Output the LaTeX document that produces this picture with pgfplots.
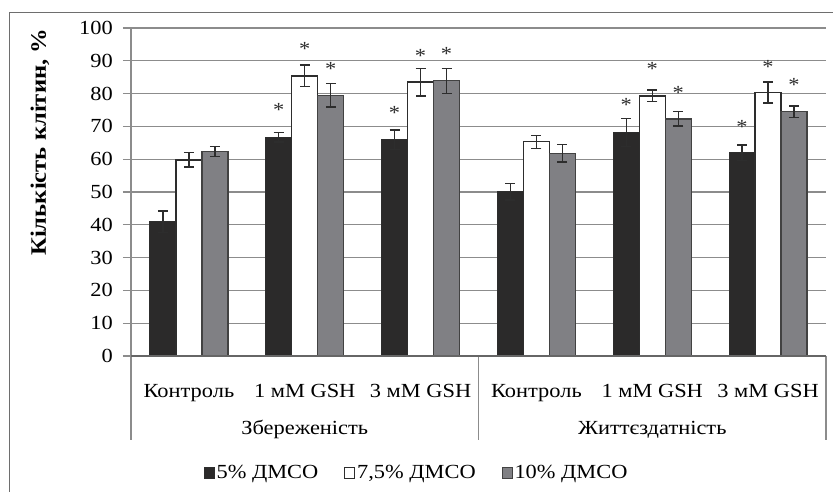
\documentclass[border=0pt]{standalone}
\usepackage{fontspec}
\setmainfont{Liberation Serif}[FakeStretch=1.12]
\usepackage{pgfplots}
\pgfplotsset{compat=1.18}
\usepackage{pgfplotstable}
\definecolor{barblack}{RGB}{43,42,42}
\definecolor{bargray}{RGB}{128,128,132}
\definecolor{edgec}{RGB}{45,45,45}
\definecolor{gridc}{RGB}{140,140,140}
\definecolor{framec}{RGB}{110,110,110}
\newcommand{\chartfont}{\fontsize{20bp}{24bp}\selectfont}

% group index, value, error
\pgfplotstableread{
x y e
0 40.9 3.3
1 66.7 1.5
2 65.9 3.0
3 50.1 2.5
4 68.2 4.3
5 62.0 2.3
}\dataA
\pgfplotstableread{
x y e
0 59.8 2.2
1 85.4 3.3
2 83.5 4.2
3 65.3 2.0
4 79.3 1.8
5 80.3 3.2
}\dataB
\pgfplotstableread{
x y e
0 62.3 1.5
1 79.5 3.6
2 83.9 3.8
3 61.8 2.7
4 72.3 2.2
5 74.5 1.7
}\dataC
% asterisk positions
\pgfplotstableread{
x y
1 75.0
2 74.0
4 76.5
5 69.9
}\starA
\pgfplotstableread{
x y
1 93.5
2 91.5
4 87.4
5 88.2
}\starB
\pgfplotstableread{
x y
1 87.4
2 92.1
4 80.3
5 82.6
}\starC

\begin{document}
\begin{tikzpicture}[font=\chartfont]
\useasboundingbox (0,0) rectangle (833bp,492bp);
\draw[framec, line width=0.8bp] (9bp,-10bp) rectangle (850bp,480bp);
\begin{axis}[
  at={(131bp,136bp)}, anchor=south west,
  scale only axis, width=695bp, height=328bp,
  xmin=-0.5, xmax=5.5, ymin=0, ymax=100,
  clip=false,
  axis line style={draw=none},
  ytick={0,10,...,100},
  yticklabel={\pgfmathparse{int(round(\tick))}\pgfmathresult},
  ytick pos=left, xtick pos=left,
  tick align=outside,
  major tick length=8bp,
  ytick style={gridc, line width=1.2bp},
  xtick={0,...,5},
  xticklabels={Контроль, 1 мМ GSH, 3 мМ GSH, Контроль, 1 мМ GSH, 3 мМ GSH},
  x tick style={draw=none},
  xticklabel style={anchor=base, yshift=-33bp},
  yticklabel style={anchor=east, inner sep=0pt, xshift=-10bp},
  /pgf/number format/assume math mode=true,
  tick label style={font=\chartfont},
  ymajorgrids, grid style={gridc, line width=1.2bp},
  legend style={at={(0.411,-0.355)}, anchor=center, draw=none, fill=none,
    legend columns=3, font=\chartfont,
    /tikz/every even column/.append style={column sep=24bp},
    inner sep=0pt},
  legend image code/.code={\draw[#1,/tikz/.cd,line width=0.8bp] (0bp,-5.5bp) rectangle (10bp,5.5bp);},
  error bars/y dir=both, error bars/y explicit,
  error bars/error bar style={edgec, line width=1.3bp},
  error bars/error mark options={rotate=90, edgec, mark size=5bp, line width=1.3bp},
]
\addplot[ybar, bar width=26bp, bar shift=0bp, fill=barblack, draw=edgec, line width=1bp]
  table[x expr=\thisrow{x}-0.2245, y=y, y error=e] {\dataA};
\addlegendentry{5\% ДМСО}
\addplot[ybar, bar width=26bp, bar shift=0bp, fill=white, draw=edgec, line width=1.3bp]
  table[x=x, y=y, y error=e] {\dataB};
\addlegendentry{7,5\% ДМСО}
\addplot[ybar, bar width=26bp, bar shift=0bp, fill=bargray, draw=edgec!90, line width=1.3bp]
  table[x expr=\thisrow{x}+0.2245, y=y, y error=e] {\dataC};
\addlegendentry{10\% ДМСО}

\addplot[forget plot, only marks, mark=text, text mark={*}, text mark as node=true,
  text mark style={font=\chartfont, text=edgec, anchor=center, inner sep=0pt}]
  table[x expr=\thisrow{x}-0.2245, y=y] {\starA};
\addplot[forget plot, only marks, mark=text, text mark={*}, text mark as node=true,
  text mark style={font=\chartfont, text=edgec, anchor=center, inner sep=0pt}]
  table[x=x, y=y] {\starB};
\addplot[forget plot, only marks, mark=text, text mark={*}, text mark as node=true,
  text mark style={font=\chartfont, text=edgec, anchor=center, inner sep=0pt}]
  table[x expr=\thisrow{x}+0.2245, y=y] {\starC};

% axis frame lines
\draw[gridc, line width=1.2bp] (axis cs:-0.5,100) -- (axis cs:-0.5,-25.6);
\draw[gridc, line width=1.2bp] (axis cs:2.5,0) -- (axis cs:2.5,-25.6);
\draw[gridc, line width=1.2bp] (axis cs:5.5,0) -- (axis cs:5.5,-25.6);
\draw[black!60, line width=1.2bp] (axis cs:-0.5,0) -- (axis cs:5.5,0);
% group labels
\node[anchor=base] at (axis cs:1,-23.8) {Збереженість};
\node[anchor=base] at (axis cs:4,-23.8) {Життєздатність};
% y label
\node[rotate=90, anchor=center, font=\fontsize{22bp}{26bp}\selectfont\bfseries]
  at (axis description cs:-0.131,0.652) {Кількість клітин, \%};
\end{axis}
\end{tikzpicture}
\end{document}
